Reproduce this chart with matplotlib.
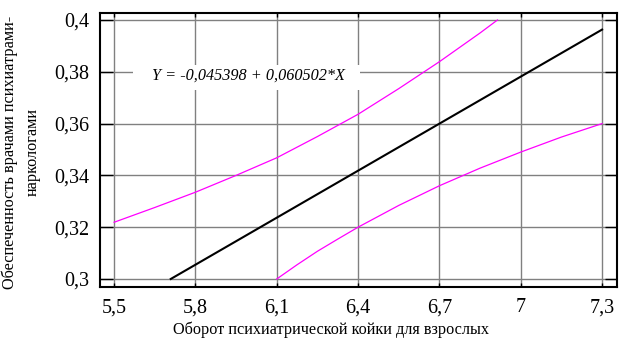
import matplotlib
matplotlib.use("Agg")
import matplotlib.pyplot as plt
from matplotlib.patches import Rectangle

# Regression line (endpoints)
line_x = [5.709, 7.3]
line_y = [0.300, 0.3963]

# Upper confidence band
upper_x = [5.5, 5.65, 5.8, 5.95, 6.1, 6.25, 6.4, 6.55, 6.7, 6.85, 6.914]
upper_y = [0.3219, 0.3276, 0.3335, 0.3400, 0.3468, 0.3550, 0.3636, 0.3735, 0.3839, 0.3950, 0.4000]

# Lower confidence band
lower_x = [6.1, 6.175, 6.25, 6.325, 6.4, 6.55, 6.7, 6.85, 7.0, 7.15, 7.3]
lower_y = [0.3000, 0.3055, 0.3107, 0.3154, 0.3200, 0.3284, 0.3360, 0.3428, 0.3490, 0.3548, 0.3600]

xticks = [5.5, 5.8, 6.1, 6.4, 6.7, 7.0, 7.3]
xticklabels = ["5,5", "5,8", "6,1", "6,4", "6,7", "7", "7,3"]
yticks = [0.30, 0.32, 0.34, 0.36, 0.38, 0.40]
yticklabels = ["0,3", "0,32", "0,34", "0,36", "0,38", "0,4"]

equation = "Y = -0,045398 + 0,060502*X"
xlabel = "Оборот психиатрической койки для взрослых"
ylabel = "Обеспеченность врачами психиатрами-\nнаркологами"

plt.rcParams['font.family'] = ['Liberation Serif', 'DejaVu Serif']

fig = plt.figure(figsize=(6.25, 3.46), dpi=100)
ax = fig.add_axes([0.16, 0.1705, 0.8272, 0.7919])
ax.set_xlim(5.448, 7.355)
ax.set_ylim(0.2969, 0.4027)

ax.set_axisbelow(True)
ax.grid(True, color='#808080', linewidth=1.0)

ax.plot(lower_x, lower_y, color='#ff00ff', linewidth=0.9, zorder=3)
ax.plot(upper_x, upper_y, color='#ff00ff', linewidth=0.9, zorder=3)
ax.plot(line_x, line_y, color='black', linewidth=1.5, zorder=3)

ax.add_patch(Rectangle((0.0638, 0.719), 0.439, 0.091, transform=ax.transAxes,
                       facecolor='white', edgecolor='none', zorder=1.5))
ax.text(5.9956, 0.3787, equation, style='italic', fontsize=11.7,
        ha='center', va='center', zorder=2)

ax.set_xticks(xticks)
ax.set_xticklabels(xticklabels)
ax.set_yticks(yticks)
ax.set_yticklabels(yticklabels)
ax.tick_params(axis='x', direction='in', length=3, width=1, top=True, bottom=True,
               labelsize=14.5, pad=8)
ax.tick_params(axis='y', direction='in', length=9, width=1, left=True, right=True,
               labelsize=14.5, pad=8)
for s in ax.spines.values():
    s.set_linewidth(1.5)

fig.text(0.530, 0.046, xlabel, fontsize=11.7, ha='center', va='center')
fig.text(0.034, 0.561, ylabel, fontsize=11.7, rotation=90, ha='center', va='center',
         multialignment='center', linespacing=1.6)

fig.savefig('out.png', dpi=100)
